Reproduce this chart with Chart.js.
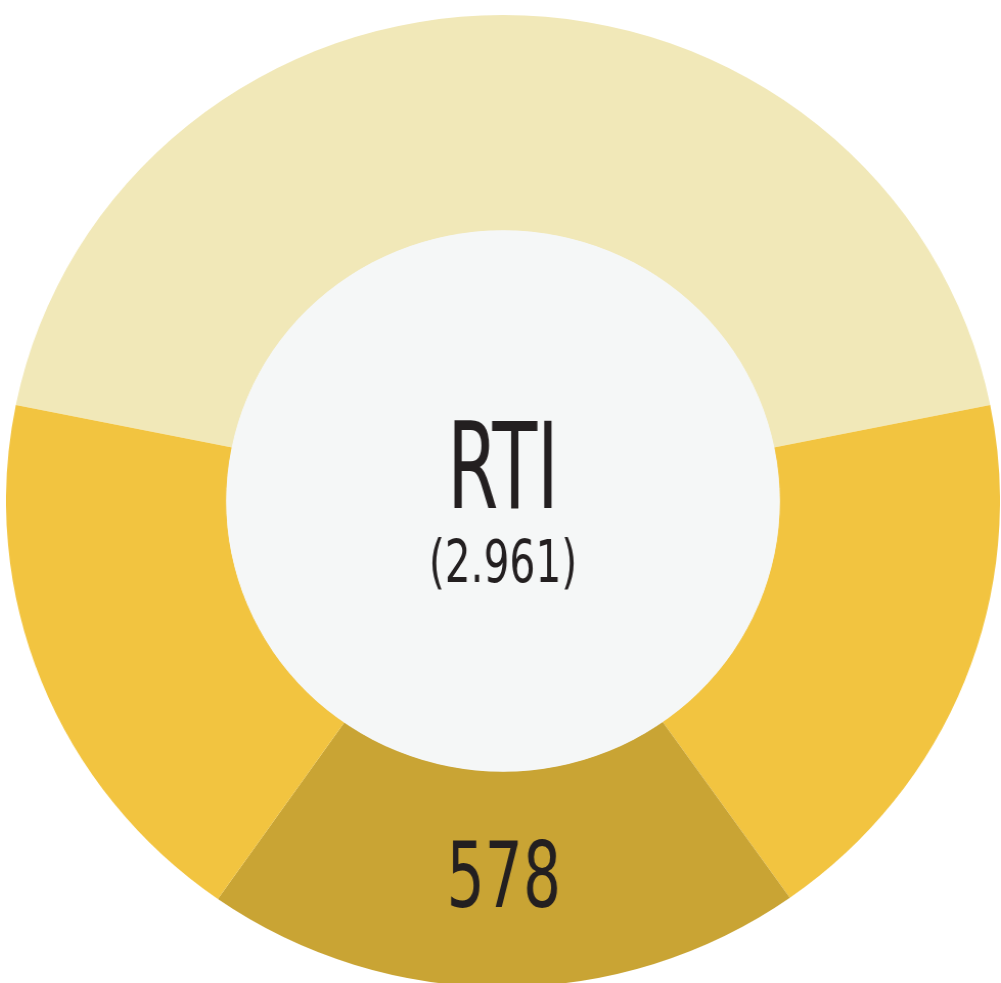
<!DOCTYPE html>
<html lang="en">
  <head>
    <meta charset="UTF-8" />
    <meta name="viewport" content="width=device-width, initial-scale=1.0" />
    <title>RTI</title>
    <script src="https://cdn.jsdelivr.net/npm/chart.js"></script>
    <style>
      html,
      body {
        margin: 0;
        padding: 0;
        background: #ffffff;
        width: 1001px;
        height: 983px;
        overflow: hidden; /* the ring runs off the page edges */
      }
      #wrap {
        position: absolute;
        left: 17px;
        top: 15px;
        width: 972px;
        height: 972px;
        transform: scaleX(1.0226); /* source picture is a little wider than tall */
        transform-origin: 486px 486px;
      }
    </style>
  </head>
  <body>
    <div id="wrap">
      <canvas id="rtiChart" width="972" height="972"></canvas>
    </div>

    <script>
      // segment data, clockwise starting with the pale top part
      const segmentLabels = ["Other", "Right", "RTI", "Left"];
      const segmentValues = [1293, 544, 578, 546];
      const segmentColors = ["#f1e8b8", "#f2c440", "#c9a434", "#f2c440"];
      const centerTitle = "RTI";
      const centerSubtitle = "(2.961)";
      const labelledSegment = 2; // only the dark one carries its number

      const textFont = "'Liberation Sans Narrow', 'DejaVu Sans Condensed', sans-serif";

      // draw text squeezed to a given width (the original font is condensed)
      function drawFitted(ctx, text, x, y, size, width) {
        ctx.save();
        ctx.font = size + "px " + textFont;
        const w = ctx.measureText(text).width;
        ctx.translate(x, y);
        ctx.scale(width / w, 1);
        ctx.textAlign = "center";
        ctx.textBaseline = "alphabetic";
        ctx.fillText(text, 0, 0);
        ctx.restore();
      }

      const centerPlugin = {
        id: "centerPlugin",
        afterDatasetsDraw(chart) {
          const ctx = chart.ctx;
          const arcs = chart.getDatasetMeta(0).data;
          const cx = arcs[0].x;
          const cy = arcs[0].y;
          const r = arcs[0].innerRadius;

          ctx.save();
          // light grey hole
          ctx.fillStyle = "#f5f7f7";
          ctx.beginPath();
          ctx.arc(cx, cy, r + 0.5, 0, Math.PI * 2);
          ctx.fill();

          ctx.fillStyle = "#231f20";
          drawFitted(ctx, centerTitle, cx, cy + 7, 120, 109);
          drawFitted(ctx, centerSubtitle, cx, cy + 81, 59, 145);

          const p = arcs[labelledSegment].tooltipPosition();
          drawFitted(ctx, String(segmentValues[labelledSegment]), p.x, p.y + 28, 91, 112);
          ctx.restore();
        },
      };

      const ctx = document.getElementById("rtiChart").getContext("2d");
      const rtiChart = new Chart(ctx, {
        type: "doughnut",
        data: {
          labels: segmentLabels,
          datasets: [
            {
              data: segmentValues,
              backgroundColor: segmentColors,
              borderWidth: 0,
              hoverOffset: 0,
            },
          ],
        },
        options: {
          responsive: false,
          devicePixelRatio: 1,
          animation: false,
          rotation: -78.6,
          cutout: "55.6%",
          layout: { padding: 0 },
          plugins: {
            legend: { display: false },
            tooltip: { enabled: false },
          },
          events: [],
        },
        plugins: [centerPlugin],
      });
    </script>
  </body>
</html>
